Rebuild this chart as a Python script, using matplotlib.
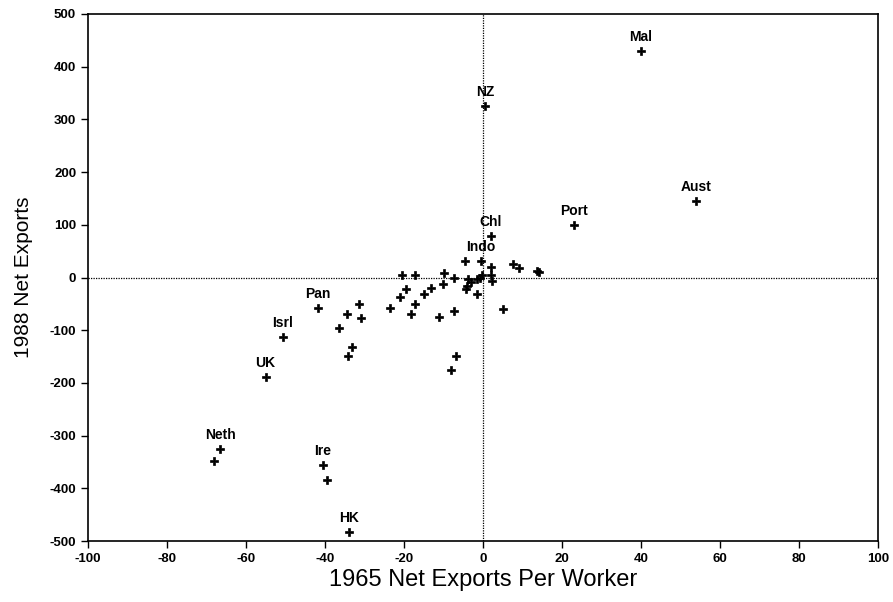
import matplotlib
matplotlib.use("Agg")
import matplotlib.pyplot as plt

plt.rcParams['font.family'] = ['Liberation Sans', 'DejaVu Sans']
plt.rcParams['axes.unicode_minus'] = False

# Labeled countries
labels = ["Mal", "NZ", "Aust", "Port", "Chl", "Indo", "Pan", "Isrl", "UK", "Neth", "Ire", "HK"]
label_x = [40, 0.5, 54, 23, 2, -0.5, -41.7, -50.6, -55, -66.5, -40.5, -34]
label_y = [430, 325, 145, 100, 78, 31, -58, -113, -189, -325, -356, -483]

# Unlabeled countries
other_x = [-4.6, -68, -39.5, -20.4, -17.2, -9.8, -7.3, -3.7, -2.9, -4.1, -4.4, -1.6,
           -0.3, -0.8, -1.6, 2, 2, 2.2, 7.7, 9.2, 13.6, 14.2, 5.1, -19.5, -21, -13.2,
           -14.9, -10, -17.2, -18.2, -23.5, -11, -7.3, -31.4, -34.3, -30.9, -36.4,
           -33.2, -34.1, -6.7, -8.2]
other_y = [32, -348, -384, 5, 5, 9, 0, -3, -8, -17, -21, -2,
           5, 0, -31, 20, 5, -7, 25, 19, 13, 11, -60, -22, -37, -19,
           -31, -13, -51, -70, -58, -75, -64, -50, -70, -77, -96,
           -132, -149, -148, -175]

x_ticks = [-100, -80, -60, -40, -20, 0, 20, 40, 60, 80, 100]
y_ticks = [-500, -400, -300, -200, -100, 0, 100, 200, 300, 400, 500]

fig = plt.figure(figsize=(8.93, 6.02), dpi=100)
ax = fig.add_axes([0.0985, 0.101, 0.8845, 0.876])

ax.axhline(0, color='black', linestyle=(0, (1, 1)), linewidth=0.9, zorder=1)
ax.axvline(0, color='black', linestyle=(0, (1, 1)), linewidth=0.9, zorder=1)

ax.plot(other_x, other_y, linestyle='none', marker='P', markersize=6.2,
        color='black', markeredgewidth=0.5, zorder=3)
ax.plot(label_x, label_y, linestyle='none', marker='P', markersize=6.2,
        color='black', markeredgewidth=0.5, zorder=3)
for t, x, y in zip(labels, label_x, label_y):
    ax.annotate(t, (x, y), xytext=(0, 5), textcoords='offset points',
                ha='center', va='bottom', fontsize=10, fontweight='bold')

ax.set_xlim(-100, 100)
ax.set_ylim(-500, 500)
ax.set_xticks(x_ticks)
ax.set_yticks(y_ticks)
ax.tick_params(direction='out', length=5, width=1, labelsize=9.5)
for lab in ax.get_xticklabels() + ax.get_yticklabels():
    lab.set_fontweight('bold')
for s in ax.spines.values():
    s.set_linewidth(1.2)

ax.set_xlabel("1965 Net Exports Per Worker", fontsize=17, labelpad=3)
ax.set_ylabel("1988 Net Exports", fontsize=15, labelpad=12)

fig.savefig("out.png", dpi=100)
